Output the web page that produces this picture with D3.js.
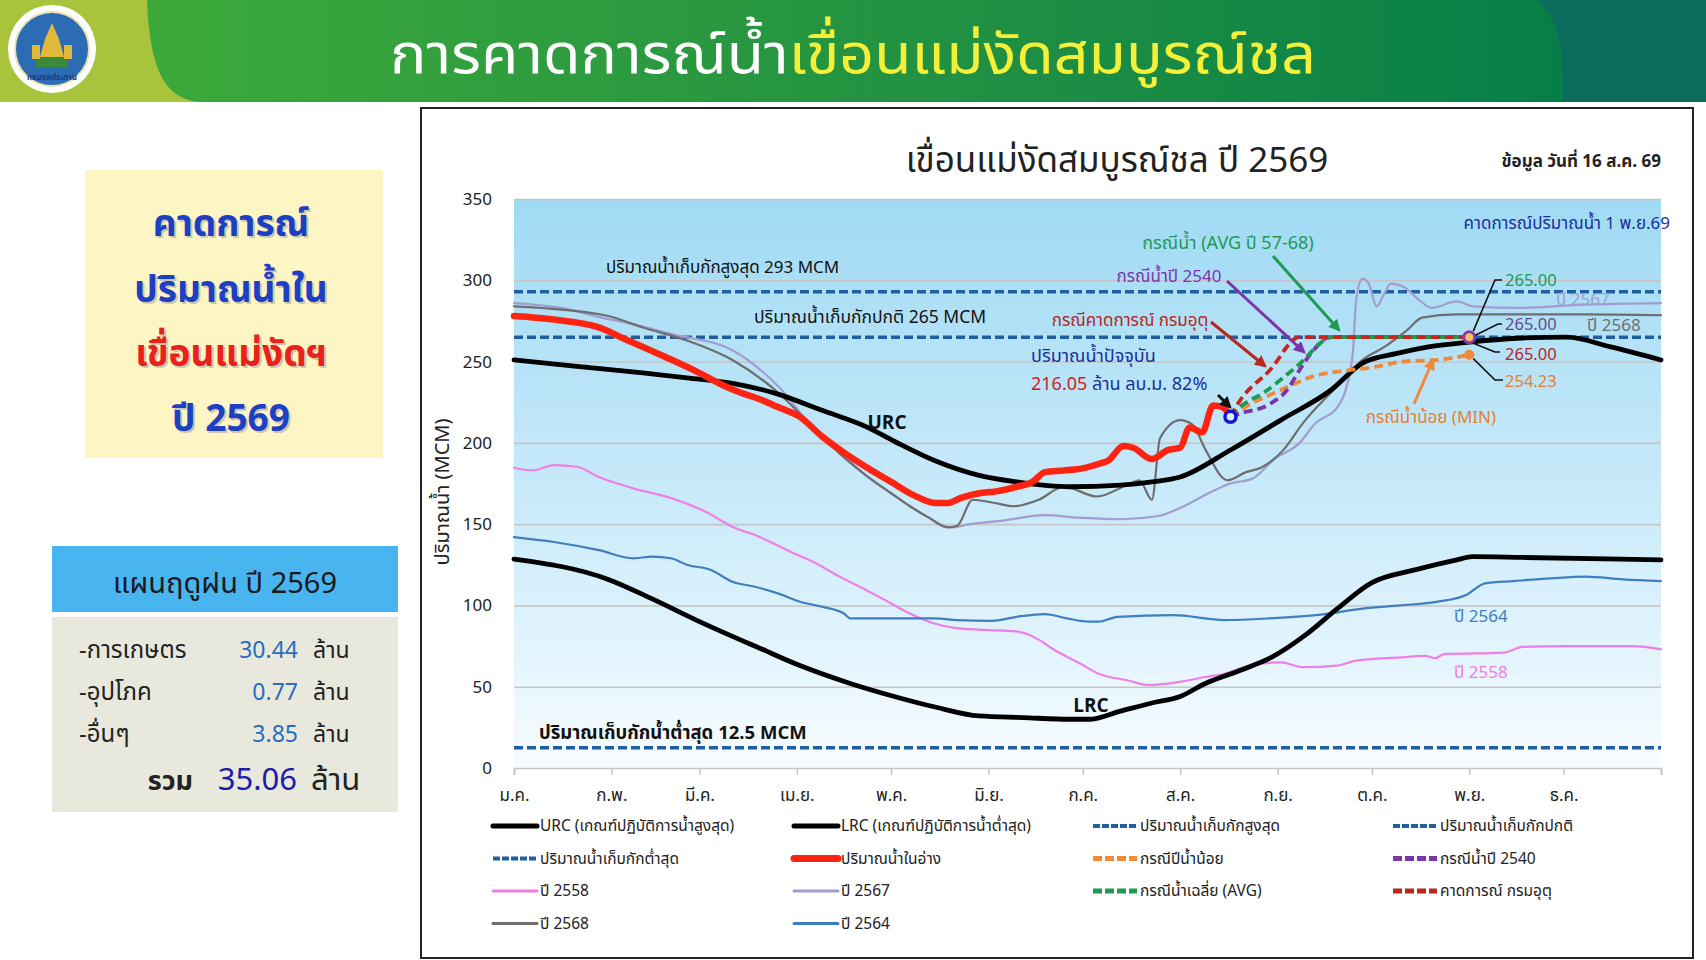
<!DOCTYPE html>
<html>
<head>
<meta charset="utf-8">
<script src="https://cdn.jsdelivr.net/npm/d3@7"></script>
<style>
  body { margin: 0; background: #fff; }
  svg text { font-family: "Noto Sans Thai", "Noto Sans Thai Looped", Tahoma, Loma, Garuda, "DejaVu Sans", sans-serif; }
</style>
</head>
<body>
<svg id="page" width="1706" height="960"></svg>
<script>
// ---- data (day of year, MCM) ----
const months = ["ม.ค.", "ก.พ.", "มี.ค.", "เม.ย.", "พ.ค.", "มิ.ย.", "ก.ค.", "ส.ค.", "ก.ย.", "ต.ค.", "พ.ย.", "ธ.ค."];
const monthStart = [0, 31, 59, 90, 120, 151, 181, 212, 243, 273, 304, 334];
const yTicks = [0, 50, 100, 150, 200, 250, 300, 350];

const maxStorage = 293, normalStorage = 265, minStorage = 12.5;

const urc = [[0,251],[20,247],[41,243],[55,240],[70,236.5],[84,230],[98,220],[112,210],[121,201],[134,189],[148,180],[160,176],[177,173],[193,174],[203,176],[212,179],[228,195.6],[244,214],[260,232.5],[270,249],[281,255],[291,259],[304,262],[321,264.5],[335,265],[349,259],[365,251]];
const lrc = [[0,128.5],[30,116],[44,104],[58,91],[79,73],[91,63],[107,52],[121,44],[134,37.5],[148,32],[162,31],[177,30],[183,30],[193,35],[203,40],[212,44],[220,52],[231,60],[241,68],[252,82],[262,98],[273,114],[287,122],[300,128],[305,130],[321,129.5],[365,128]];
const storage2569 = [[0,278],[12,276],[27,271],[34,265],[48,253],[58,244],[67,235],[72,231],[78,227],[84,222],[91,216],[98,204],[105,194],[113,184],[120,176],[127,168],[134,163],[138,163],[142,166],[148,169],[153,170],[160,173],[165,176],[169,182],[175,183],[180,184],[186,187],[189,189],[194,198],[197,197],[203,190],[208,195.5],[212,197],[215,209.5],[219,206.5],[222.5,223],[225.5,222],[228,216.05]];
const y2568 = [[0,284],[15,282],[30,278],[41,271],[55,263],[69.5,251],[84,231],[95,210],[105,191],[112,180],[120,169],[126,161],[132,154],[138,148],[141,149],[146,165],[153,163],[159,161],[167,165],[175,173],[185.5,167],[196,175],[199,177],[203,165],[205.6,203],[212,214],[216,211],[220,196],[227,177],[233,182],[238,185],[245,196],[251,212],[260,231],[265,241],[270,251],[277,259],[284,269],[289,277],[300,279],[320,279],[340,279],[365,278.5]];
const y2567 = [[0,286],[15,283],[27,277.5],[40,272],[50,267],[69.5,257],[84,235],[98,203],[105,192],[112,180],[120,169],[126,161],[132,154],[139,148],[145,150],[155,152],[169,155.5],[180,154],[193,153],[205,155],[212,160],[222,170],[228,175],[235,178],[242,190],[250,200],[255,212],[262,222],[265,235],[267,257],[268,288],[270,301],[272,298],[274.5,284],[277,292],[279,298],[283,296],[288,288],[292,283],[300,287],[305,284],[320,283],[340,285],[365,286]];
const y2558 = [[0,184.7],[6,183],[12.7,186.3],[20,185.3],[27,179],[38,172],[50,166],[61,157.6],[69.5,148.4],[78,142.3],[88,133],[95,127],[103.6,117.7],[112,109.5],[119,102.3],[126,95],[133.5,89],[140.6,86],[149,85],[160,84],[166,80],[172,72.6],[180,64.4],[186,58],[195,54],[202,51],[212,53],[220,56],[226,58],[234,63],[244,65],[251,62],[262,63],[268,66],[282,68],[290,69],[293,67.5],[296,70],[315,71],[321,74.5],[335,75],[356,75],[365,73]];
const y2564 = [[0,142],[12.7,139],[27,134],[38,129],[44,130],[50,129],[55,125],[62.5,122],[69.5,114.6],[76.7,111.5],[84,107.4],[91,102.3],[98,99.2],[105,95],[107,92],[120,92],[134,92],[141,91],[152,90.5],[160,93],[169,94.7],[176,92],[183,90],[186,90],[192,93],[210,94],[226,91],[240,92],[258,94.7],[270,98],[282,100],[294,102.3],[303,106.4],[309,113.6],[318,115],[330,116.7],[341,117.7],[353,116],[365,115]];

const caseMin = [[228,216.05],[231,220],[244,232.5],[254,240.7],[265,244.5],[275,247],[282.5,250],[294,251],[304,254.23]];
const case2540 = [[228,216.05],[231,218],[240.6,224],[246,232.5],[250,244.8],[254,256],[259.7,265],[304,265]];
const caseAvg = [[228,216.05],[231,222],[238.4,230.6],[249,246.8],[260.6,265],[304,265]];
const caseTmd = [[228,216.05],[230,223],[240.6,244.8],[250,265],[304,265]];

const currentDay = 228, currentValue = 216.05;
const forecastDay = 304;
const forecastValues = { avg: 265.00, y2540: 265.00, tmd: 265.00, min: 254.23 };

const planRows = [["-การเกษตร", "30.44"], ["-อุปโภค", "0.77"], ["-อื่นๆ", "3.85"]];
const planTotal = "35.06";

// ---- page ----
const svg = d3.select("#page");
const defs = svg.append("defs");

const hg = defs.append("linearGradient").attr("id", "hdr").attr("x1", 0).attr("x2", 1);
hg.append("stop").attr("offset", "0").attr("stop-color", "#3da93a");
hg.append("stop").attr("offset", "0.55").attr("stop-color", "#1f8f43");
hg.append("stop").attr("offset", "1").attr("stop-color", "#007a48");

const pg = defs.append("linearGradient").attr("id", "plotbg").attr("x1", 0).attr("x2", 0).attr("y1", 0).attr("y2", 1);
pg.append("stop").attr("offset", "0").attr("stop-color", "#a0daf4");
pg.append("stop").attr("offset", "0.55").attr("stop-color", "#cbebfa");
pg.append("stop").attr("offset", "1").attr("stop-color", "#f7fcff");

// header
svg.append("rect").attr("x", 0).attr("y", 0).attr("width", 1706).attr("height", 102).attr("fill", "#a9c43c");
svg.append("path").attr("d", "M147,0 H1706 V102 H205 C170,102 150,80 147,0 Z").attr("fill", "url(#hdr)");
svg.append("path").attr("d", "M1537,0 H1706 V102 H1563 C1565,40 1555,15 1537,0 Z").attr("fill", "#0b6b5c");

// logo
const logo = svg.append("g").attr("transform", "translate(52,49)");
logo.append("circle").attr("r", 44).attr("fill", "#fff");
logo.append("circle").attr("r", 37).attr("fill", "#2c6cb4").attr("stroke", "#e9e2b0").attr("stroke-width", 2);
logo.append("path").attr("d", "M0,-26 L7,-10 L12,8 L-12,8 L-7,-10 Z").attr("fill", "#e0b83a");
logo.append("rect").attr("x", -16).attr("y", 8).attr("width", 32).attr("height", 10).attr("fill", "#3a8a3a");
logo.append("rect").attr("x", -20).attr("y", -4).attr("width", 8).attr("height", 14).attr("fill", "#e0b83a");
logo.append("rect").attr("x", 12).attr("y", -4).attr("width", 8).attr("height", 14).attr("fill", "#e0b83a");
logo.append("text").attr("y", 31).attr("text-anchor", "middle").attr("font-size", 8).attr("font-weight", "bold")
  .attr("fill", "#1a3a80").text("กรมชลประทาน");

const title = svg.append("text").attr("x", 390).attr("y", 73).attr("font-size", 56)
  .attr("textLength", 926).attr("lengthAdjust", "spacingAndGlyphs");
title.append("tspan").attr("fill", "#ffffff").text("การคาดการณ์น้ำ");
title.append("tspan").attr("fill", "#f4f03a").text("เขื่อนแม่งัดสมบูรณ์ชล");

// left yellow box
svg.append("rect").attr("x", 85).attr("y", 170).attr("width", 298).attr("height", 288).attr("fill", "#fdf5c3");
const boxLines = [["คาดการณ์", "#1c3fc4", 236], ["ปริมาณน้ำใน", "#1c3fc4", 302], ["เขื่อนแม่งัดฯ", "#e8221a", 366], ["ปี 2569", "#1c3fc4", 431]];
boxLines.forEach(l => {
  svg.append("text").attr("x", 231).attr("y", l[2] + 2).attr("text-anchor", "middle").attr("font-size", 37)
    .attr("font-weight", "bold").attr("fill", "#9a9a9a").attr("opacity", 0.5).attr("dx", 2).text(l[0]);
  svg.append("text").attr("x", 231).attr("y", l[2]).attr("text-anchor", "middle").attr("font-size", 37)
    .attr("font-weight", "bold").attr("fill", l[1]).text(l[0]);
});

// plan boxes
svg.append("rect").attr("x", 52).attr("y", 546).attr("width", 346).attr("height", 66).attr("fill", "#48b4f0");
svg.append("text").attr("x", 225).attr("y", 593).attr("text-anchor", "middle").attr("font-size", 29).attr("fill", "#1a1a1a")
  .text("แผนฤดูฝน ปี 2569");
svg.append("rect").attr("x", 52).attr("y", 617).attr("width", 346).attr("height", 195).attr("fill", "#e8e8dc");
planRows.forEach((r, i) => {
  const yy = 658 + i * 42;
  svg.append("text").attr("x", 79).attr("y", yy).attr("font-size", 24).attr("fill", "#222").text(r[0]);
  svg.append("text").attr("x", 298).attr("y", yy).attr("text-anchor", "end").attr("font-size", 23).attr("fill", "#2a6cc0").text(r[1]);
  svg.append("text").attr("x", 313).attr("y", yy).attr("font-size", 23).attr("fill", "#222").text("ล้าน");
});
svg.append("text").attr("x", 193).attr("y", 790).attr("text-anchor", "end").attr("font-size", 27).attr("font-weight", "bold").attr("fill", "#222").text("รวม");
svg.append("text").attr("x", 297).attr("y", 790).attr("text-anchor", "end").attr("font-size", 31).attr("fill", "#1c1caa").text(planTotal);
svg.append("text").attr("x", 311).attr("y", 790).attr("font-size", 31).attr("fill", "#222").text("ล้าน");

// chart frame
svg.append("rect").attr("x", 421).attr("y", 108).attr("width", 1272).attr("height", 850).attr("fill", "#fff")
  .attr("stroke", "#222").attr("stroke-width", 2);
svg.append("text").attr("x", 1117).attr("y", 172).attr("text-anchor", "middle").attr("font-size", 35).attr("fill", "#222")
  .text("เขื่อนแม่งัดสมบูรณ์ชล ปี 2569");
svg.append("text").attr("x", 1661).attr("y", 167).attr("text-anchor", "end").attr("font-size", 17).attr("font-weight", "bold").attr("fill", "#222")
  .text("ข้อมูล วันที่ 16 ส.ค. 69");

// ---- plot ----
const x = d3.scaleLinear().domain([0, 365]).range([514, 1661]);
const y = d3.scaleLinear().domain([0, 350]).range([768, 199]);

svg.append("rect").attr("x", x(0)).attr("y", y(350)).attr("width", x(365) - x(0)).attr("height", y(0) - y(350)).attr("fill", "url(#plotbg)");

// gridlines
const grid = svg.append("g").attr("transform", `translate(${x(0)},0)`)
  .call(d3.axisLeft(y).tickValues(yTicks.filter(t => t > 0)).tickSize(-(x(365) - x(0))).tickFormat(""));
grid.select(".domain").remove();
grid.selectAll("line").attr("stroke", "#c6c6c6").attr("stroke-width", 1.6);

// y axis labels
const yAxis = svg.append("g").attr("transform", `translate(${x(0) - 22},0)`)
  .call(d3.axisLeft(y).tickValues(yTicks).tickSize(0).tickPadding(0));
yAxis.select(".domain").remove();
yAxis.selectAll("text").attr("font-size", 17).attr("fill", "#222")
  .style("font-family", "\"Noto Sans Thai\", Tahoma, \"DejaVu Sans\", sans-serif");

svg.append("text").attr("transform", "translate(449,492) rotate(-90)").attr("text-anchor", "middle")
  .attr("font-size", 20).attr("fill", "#222").text("ปริมาณน้ำ (MCM)");

// x axis
const xAxis = svg.append("g").attr("transform", `translate(0,${y(0)})`)
  .call(d3.axisBottom(x).tickValues(monthStart.concat([365])).tickSize(7).tickPadding(14)
    .tickFormat(d => months[monthStart.indexOf(d)] || ""));
xAxis.select(".domain").attr("stroke", "#c6c6c6").attr("stroke-width", 1.6);
xAxis.selectAll("line").attr("stroke", "#c6c6c6").attr("stroke-width", 1.6);
xAxis.selectAll("text").attr("font-size", 17).attr("fill", "#222")
  .style("font-family", "\"Noto Sans Thai\", Tahoma, \"DejaVu Sans\", sans-serif");

// reference dashed lines
const refColor = "#1f5f9f";
[maxStorage, normalStorage, minStorage].forEach(v => {
  svg.append("line").attr("x1", x(0)).attr("x2", x(365)).attr("y1", y(v)).attr("y2", y(v))
    .attr("stroke", refColor).attr("stroke-width", 3.5).attr("stroke-dasharray", "9,4");
});
svg.append("text").attr("x", 606).attr("y", 273).attr("font-size", 17).attr("fill", "#111").text("ปริมาณน้ำเก็บกักสูงสุด  293 MCM");
svg.append("text").attr("x", 754).attr("y", 323).attr("font-size", 17.5).attr("fill", "#111").text("ปริมาณน้ำเก็บกักปกติ  265 MCM");
svg.append("text").attr("x", 539).attr("y", 739).attr("font-size", 18.5).attr("font-weight", "bold").attr("fill", "#111").text("ปริมาณเก็บกักน้ำต่ำสุด 12.5 MCM");

const line = d3.line().x(d => x(d[0])).y(d => y(d[1])).curve(d3.curveMonotoneX);
function drawLine(data, color, width, dash) {
  const p = svg.append("path").datum(data).attr("d", line).attr("fill", "none")
    .attr("stroke", color).attr("stroke-width", width).attr("stroke-linejoin", "round").attr("stroke-linecap", dash ? "butt" : "round");
  if (dash) p.attr("stroke-dasharray", dash);
  return p;
}

drawLine(y2558, "#ef7fe6", 2.2);
drawLine(y2564, "#3f7fbf", 2.2);
drawLine(y2567, "#a29dd0", 2.2);
drawLine(y2568, "#6e6e6e", 2.2);
drawLine(lrc, "#000", 4.8);
drawLine(urc, "#000", 4.8);
drawLine(storage2569, "#ff2412", 6.5);

drawLine(caseMin, "#f08a38", 3.8, "9,5");
drawLine(case2540, "#7a35aa", 3.8, "9,5");
drawLine(caseAvg, "#1e9a55", 3.8, "9,5");
drawLine(caseTmd, "#c8261c", 3.8, "9,5");

// markers
svg.append("circle").attr("cx", x(forecastDay)).attr("cy", y(forecastValues.min)).attr("r", 5).attr("fill", "#f08a38");
svg.append("circle").attr("cx", x(forecastDay)).attr("cy", y(forecastValues.avg)).attr("r", 5.5).attr("fill", "#f6c060")
  .attr("stroke", "#8a3ab0").attr("stroke-width", 3);
svg.append("circle").attr("cx", x(currentDay)).attr("cy", y(currentValue)).attr("r", 5.5).attr("fill", "#d8f0ff")
  .attr("stroke", "#1414d0").attr("stroke-width", 3.5);

// curve labels
svg.append("text").attr("x", 887).attr("y", 429).attr("text-anchor", "middle").attr("font-size", 19).attr("font-weight", "bold").attr("fill", "#111").text("URC");
svg.append("text").attr("x", 1091).attr("y", 712).attr("text-anchor", "middle").attr("font-size", 19).attr("font-weight", "bold").attr("fill", "#111").text("LRC");
svg.append("text").attr("x", 1454).attr("y", 622).attr("font-size", 17).attr("fill", "#3f7fbf").text("ปี 2564");
svg.append("text").attr("x", 1454).attr("y", 678).attr("font-size", 17).attr("fill", "#ef7fe6").text("ปี 2558");
svg.append("text").attr("x", 1556).attr("y", 305).attr("font-size", 17).attr("fill", "#a29dd0").text("ปี 2567");
svg.append("text").attr("x", 1587).attr("y", 331).attr("font-size", 17).attr("fill", "#6e6e6e").text("ปี 2568");

// arrows
const arrowColors = { g: "#1e9a55", p: "#7a35aa", r: "#b8261c", k: "#111", o: "#f08a38" };
Object.entries(arrowColors).forEach(([k, c]) => {
  defs.append("marker").attr("id", "ar-" + k).attr("viewBox", "0 0 10 10").attr("refX", 8).attr("refY", 5)
    .attr("markerWidth", 4).attr("markerHeight", 4).attr("orient", "auto")
    .append("path").attr("d", "M0,0 L10,5 L0,10 z").attr("fill", c);
});
function arrow(x1, y1, x2, y2, k) {
  svg.append("line").attr("x1", x1).attr("y1", y1).attr("x2", x2).attr("y2", y2)
    .attr("stroke", arrowColors[k]).attr("stroke-width", 3).attr("marker-end", `url(#ar-${k})`);
}
arrow(1273, 256, 1339, 330, "g");
arrow(1227, 281, 1304, 352, "p");
arrow(1211, 322, 1265, 366, "r");
arrow(1218, 395, 1230, 407, "k");
arrow(1414, 404, 1433, 360, "o");

svg.append("text").attr("x", 1670).attr("y", 229).attr("text-anchor", "end").attr("font-size", 17).attr("fill", "#1a2f9a").text("คาดการณ์ปริมาณน้ำ  1 พ.ย.69");
svg.append("text").attr("x", 1228).attr("y", 249).attr("text-anchor", "middle").attr("font-size", 18).attr("fill", "#1e9a55").text("กรณีน้ำ (AVG ปี 57-68)");
svg.append("text").attr("x", 1169).attr("y", 282).attr("text-anchor", "middle").attr("font-size", 17).attr("fill", "#7a35aa").text("กรณีน้ำปี 2540");
svg.append("text").attr("x", 1130).attr("y", 326).attr("text-anchor", "middle").attr("font-size", 17).attr("fill", "#b8261c").text("กรณีคาดการณ์ กรมอุตุ");
svg.append("text").attr("x", 1031).attr("y", 362).attr("font-size", 18).attr("fill", "#1a2f9a").text("ปริมาณน้ำปัจจุบัน");
const cur = svg.append("text").attr("x", 1031).attr("y", 390).attr("font-size", 18);
cur.append("tspan").attr("fill", "#d02020").text(currentValue.toFixed(2));
cur.append("tspan").attr("fill", "#1a2f9a").text("  ล้าน ลบ.ม. 82%");
svg.append("text").attr("x", 1431).attr("y", 423).attr("text-anchor", "middle").attr("font-size", 17).attr("fill", "#e58030").text("กรณีน้ำน้อย (MIN)");

// forecast value labels with leaders
const fx = x(forecastDay);
const valLabels = [
  [forecastValues.avg, "#1e9a55", [fx + 4, y(265) - 6, 1495, 280, 1502, 280], 286],
  [forecastValues.y2540, "#6a4a8a", [fx + 6, y(265) - 2, 1498, 324, 1502, 324], 330],
  [forecastValues.tmd, "#b8261c", [fx + 4, y(265) + 6, 1495, 352, 1500, 352], 360],
  [forecastValues.min, "#e58030", [fx + 4, y(forecastValues.min) + 4, 1495, 380, 1503, 380], 387]
];
valLabels.forEach(v => {
  const c = v[2];
  svg.append("polyline").attr("points", `${c[0]},${c[1]} ${c[2]},${c[3]} ${c[4]},${c[5]}`)
    .attr("fill", "none").attr("stroke", "#111").attr("stroke-width", 1.6);
  svg.append("text").attr("x", 1505).attr("y", v[3]).attr("font-size", 16.5).attr("fill", v[1]).text(v[0].toFixed(2));
});

// ---- legend ----
const legendItems = [
  ["URC (เกณฑ์ปฏิบัติการน้ำสูงสุด)", "#000", 5, null],
  ["LRC (เกณฑ์ปฏิบัติการน้ำต่ำสุด)", "#000", 5, null],
  ["ปริมาณน้ำเก็บกักสูงสุด", refColor, 4, "7,2"],
  ["ปริมาณน้ำเก็บกักปกติ", refColor, 4, "7,2"],
  ["ปริมาณน้ำเก็บกักต่ำสุด", refColor, 4, "7,2"],
  ["ปริมาณน้ำในอ่าง", "#ff2412", 7, null],
  ["กรณีปีน้ำน้อย", "#f08a38", 5, "9,3"],
  ["กรณีน้ำปี 2540", "#7a35aa", 5, "9,3"],
  ["ปี 2558", "#ef7fe6", 3, null],
  ["ปี 2567", "#a29dd0", 3, null],
  ["กรณีน้ำเฉลี่ย (AVG)", "#1e9a55", 5, "9,3"],
  ["คาดการณ์ กรมอุตุ", "#b8261c", 5, "9,3"],
  ["ปี 2568", "#6e6e6e", 3, null],
  ["ปี 2564", "#3f7fbf", 3, null]
];
const legCols = [493, 794, 1093, 1393];
legendItems.forEach((it, i) => {
  const lx = legCols[i % 4], ly = 826 + Math.floor(i / 4) * 32.5;
  const sw = svg.append("line").attr("x1", lx).attr("x2", lx + 44).attr("y1", ly).attr("y2", ly)
    .attr("stroke", it[1]).attr("stroke-width", it[2]).attr("stroke-linecap", it[3] ? "butt" : "round");
  if (it[3]) sw.attr("stroke-dasharray", it[3]);
  svg.append("text").attr("x", lx + 47).attr("y", ly + 5).attr("font-size", 15.5).attr("fill", "#222").text(it[0]);
});
</script>
</body>
</html>
